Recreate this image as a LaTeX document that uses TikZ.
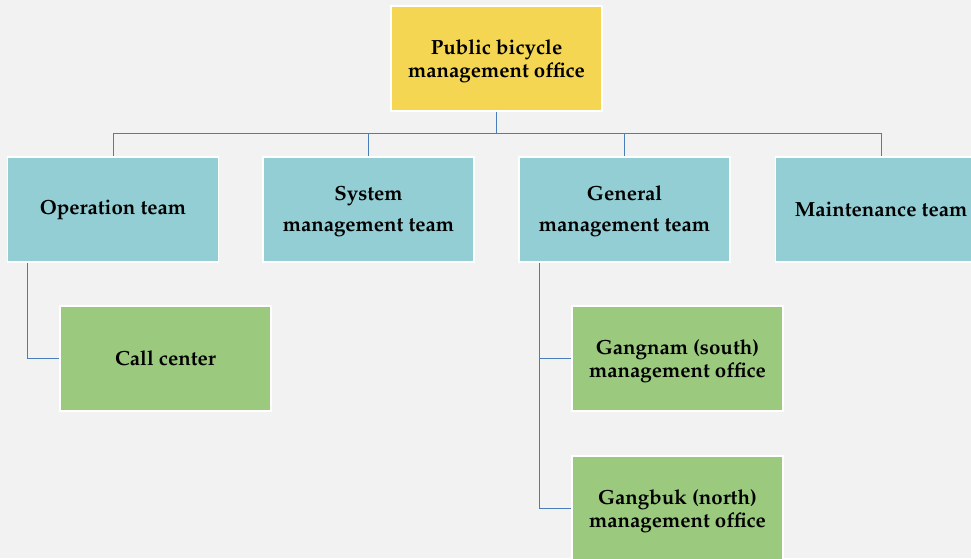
\documentclass[tikz,border=0pt]{standalone}
\usepackage[T1]{fontenc}
\usepackage{mathpazo}
\definecolor{bgc}{HTML}{F2F2F2}
\definecolor{topc}{HTML}{F4D653}
\definecolor{teamc}{HTML}{92CED4}
\definecolor{subc}{HTML}{9BC97E}
\definecolor{linec}{HTML}{4A7EBB}
\begin{document}
\begin{tikzpicture}[x=1pt,y=-1pt,
  box/.style={draw=white,line width=1.5pt,minimum width=211pt,minimum height=105pt,
    align=center,inner sep=0pt,font=\fontsize{20.5}{23}\selectfont\bfseries},
  topbox/.style={box,fill=topc},
  teambox/.style={box,fill=teamc,font=\fontsize{20.5}{31}\selectfont\bfseries},
  subbox/.style={box,fill=subc},
  twoline/.style={text height=44pt},
  teamtwo/.style={text height=50pt},
  conn/.style={draw=linec,line width=1pt}]
\useasboundingbox (0,0) rectangle (971,558);
\clip (0,0) rectangle (971,558);
\fill[bgc] (0,0) rectangle (971,558);
\coordinate (bus) at (0,133);
\node[topbox,twoline] (top) at (496.5,58.5) {Public bicycle\\management office};
\node[teambox] (op) at (113,209.5) {Operation team};
\node[teambox,teamtwo] (sys) at (368.5,209.5) {System\\management team};
\node[teambox,teamtwo] (gen) at (624.5,209.5) {General\\management team};
\node[teambox] (maint) at (881,209.5) {Maintenance team};
\node[subbox] (call) at (165.5,358.5) {Call center};
\node[subbox,twoline] (gangnam) at (677.5,358.5) {Gangnam (south)\\management office};
\node[subbox,twoline] (gangbuk) at (677.5,508.5) {Gangbuk (north)\\management office};
\draw[conn] (top.south) -- (top.south |- bus);
\draw[conn] (op.north) -- (op.north |- bus) -- (maint.north |- bus) -- (maint.north);
\draw[conn] (sys.north) -- (sys.north |- bus);
\draw[conn] (gen.north) -- (gen.north |- bus);
\draw[conn] ([xshift=21pt]op.south west) |- (call.west);
\draw[conn] ([xshift=21pt]gen.south west) |- (gangnam.west);
\draw[conn] ([xshift=21pt]gen.south west) |- (gangbuk.west);
\end{tikzpicture}
\end{document}
